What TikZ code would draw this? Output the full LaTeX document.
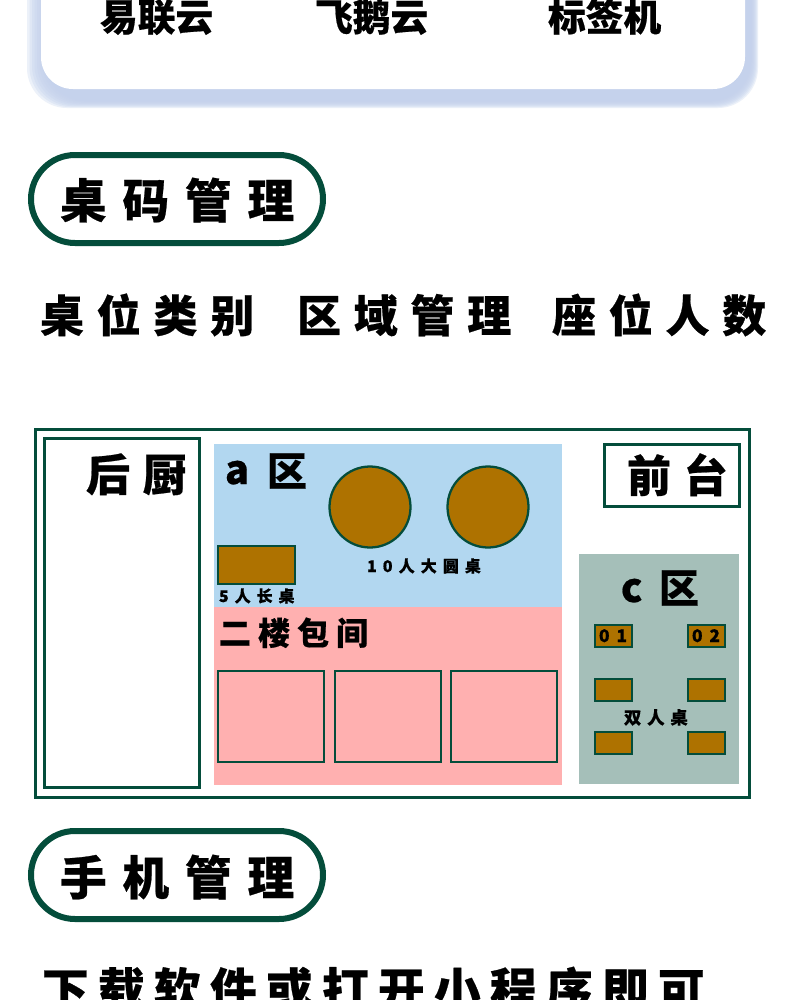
\documentclass[tikz,border=0pt]{standalone}
\usepackage{fontspec}
\newfontfamily\cjk[FakeBold=0.5]{Noto Sans CJK SC Black}
\definecolor{dkgreen}{HTML}{044D3B}
\definecolor{brownfill}{HTML}{AE7200}
\definecolor{zonea}{HTML}{B2D7F0}
\definecolor{zonep}{HTML}{FFB0B0}
\definecolor{zonec}{HTML}{A5BFB9}
\definecolor{shadowc}{HTML}{C3D1EC}
\newcommand\tfont[2]{\cjk\fontsize{#1}{#1}\selectfont\addfontfeature{LetterSpace=#2}}
\tikzset{
  x=0.75pt,y=-0.75pt,
  lbl/.style={inner sep=0pt,outer sep=0pt,anchor=base west,text=black},
  line/.style={draw=dkgreen,line width=#1*0.75pt},
  pill/.style={draw=dkgreen,line width=4.5pt,fill=white,rounded corners=33pt},
  tbl/.style={draw=dkgreen,line width=1.7pt,fill=brownfill},
  room/.style={draw=dkgreen,line width=2.2pt,fill=zonep},
  sh/.style={fill=shadowc,fill opacity=0.3,rounded corners=30pt},
}
\begin{document}
\begin{tikzpicture}
\useasboundingbox (0,0) rectangle (790,1000);
\clip (0,0) rectangle (790,1000);
\fill[white] (0,0) rectangle (790,1000);
% card shadow
\foreach \d in {0,...,7}{
  \fill[sh] ({27+2.5*\d},-40) rectangle ({758-\d},{108-\d});
}
\fill[white,rounded corners=24pt] (41,-40) rectangle (745,89);
\node[lbl] (t1) at (100,31) {\tfont{28.3}{0}易联云};
\node[lbl] (t2) at (315,31) {\tfont{28.3}{0}飞鹅云};
\node[lbl] (t3) at (548,31) {\tfont{28.3}{0}标签机};
% pills
\draw[pill] (31,155) rectangle (323,243);
\node[lbl] (p1) at (60,218) {\tfont{35}{34}桌码管理};
\draw[pill] (31,831) rectangle (323,919);
\node[lbl] (p2) at (60,895) {\tfont{35}{34}手机管理};
% row
\node[lbl] (r1) at (40,332) {\tfont{33}{29}桌位类别};
\node[lbl] (r2) at (297,332) {\tfont{33}{29}区域管理};
\node[lbl] (r3) at (552,332) {\tfont{33}{29}座位人数};
% plan
\draw[line=3] (35,429) rectangle (749,797);
\draw[line=3] (44,438) rectangle (199,787);
\node[lbl] (k) at (86,491) {\tfont{33}{29}后厨};
\fill[zonea] (214,444) rectangle (562,607);
\fill[zonep] (214,607) rectangle (562,785);
\node[lbl] (a1) at (225,484) {\tfont{30}{0}a};
\node[lbl] (a2) at (267,486) {\tfont{30}{0}区};
\draw[tbl] (370,507) circle (40.5);
\draw[tbl] (488,507) circle (40.5);
\node[lbl] (b10) at (367,572) {\tfont{12}{38}10人大圆桌};
\draw[tbl] (218,546) rectangle (295,584);
\node[lbl] (b5) at (219,602) {\tfont{12}{37}5人长桌};
\node[lbl] (up) at (219,645) {\tfont{24}{22}二楼包间};
\draw[room] (218,671) rectangle (324,762);
\draw[room] (335,671) rectangle (441,762);
\draw[room] (451,671) rectangle (557,762);
\draw[line=3] (604,444) rectangle (739,506);
\node[lbl] (q) at (627,492) {\tfont{33}{29}前台};
\fill[zonec] (579,554) rectangle (739,784);
\node[lbl] (c1) at (621,602) {\tfont{30}{0}c};
\node[lbl] (c2) at (659,603) {\tfont{30}{0}区};
\draw[tbl] (595,625) rectangle (632,647);
\draw[tbl] (688,625) rectangle (725,647);
\node[lbl] (n1) at (599,642) {\tfont{13}{40}01};
\node[lbl] (n2) at (692,642) {\tfont{13}{40}02};
\draw[tbl] (595,679) rectangle (632,701);
\draw[tbl] (688,679) rectangle (725,701);
\draw[tbl] (595,732) rectangle (632,754);
\draw[tbl] (688,732) rectangle (725,754);
\node[lbl] (d) at (624,724) {\tfont{13}{34}双人桌};
% bottom
\node[lbl] (bt) at (42,1007) {\tfont{35}{20}下载软件或打开小程序即可};
\end{tikzpicture}
\end{document}
